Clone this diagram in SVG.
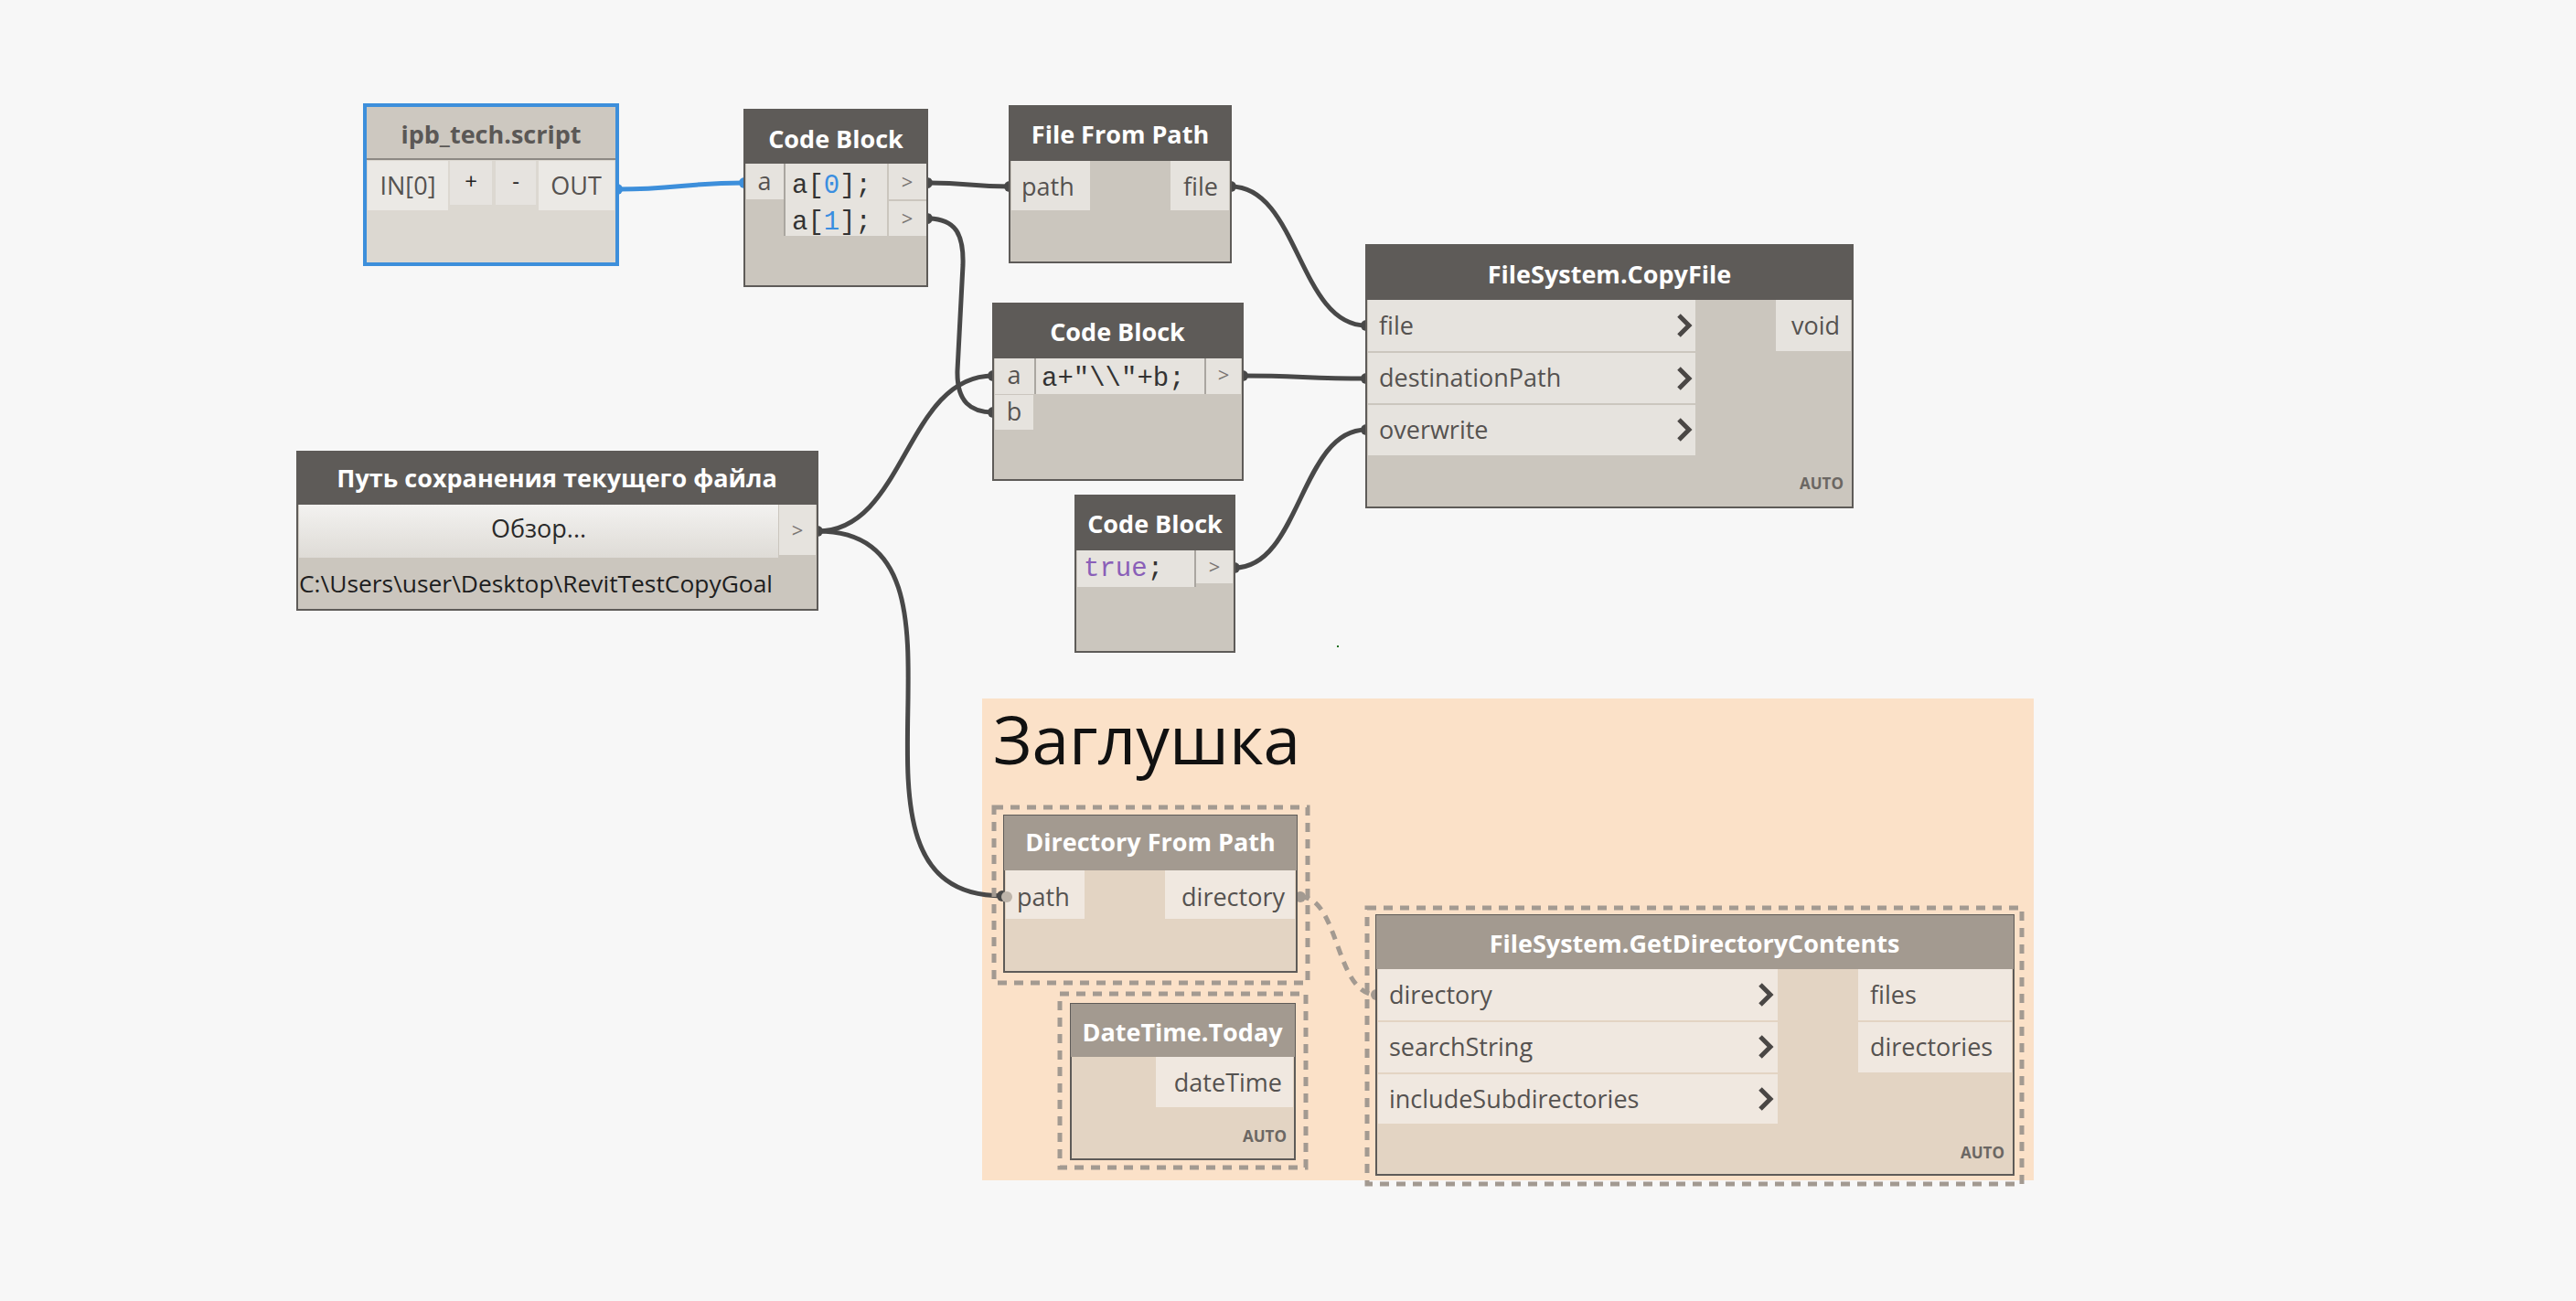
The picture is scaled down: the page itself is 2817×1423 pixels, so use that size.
<svg xmlns="http://www.w3.org/2000/svg" width="2817" height="1423" viewBox="0 0 2817 1423">
<style>
.hdr{fill:#5e5b58}
.body{fill:#cbc6be;stroke:#5e5b58;stroke-width:2}
.cell{fill:#e6e3de}
.title{font-family:"Open Sans","Noto Sans",sans-serif;font-weight:bold;font-size:27px;fill:#ffffff;text-anchor:middle}
.lbl{font-family:"Open Sans","Noto Sans",sans-serif;font-size:27px;fill:#555250}
.code{font-family:"Liberation Mono",monospace;font-size:29px;fill:#333333}
.num{fill:#3a8ee0}
.kw{fill:#8a5fb8}
.arr{font-family:"Open Sans",sans-serif;font-size:22px;fill:#7a7672;text-anchor:middle}
.wire{fill:none;stroke:#484848;stroke-width:5}
.cap{fill:#484848}
.chev{fill:none;stroke:#4a4745;stroke-width:5}
.auto{font-family:"Open Sans",sans-serif;font-weight:bold;font-size:17px;fill:#6b6763;text-anchor:end}
.fzhdr{fill:#a39a90}
.fzbody{fill:#e3d4c3;stroke:#5e5b58;stroke-width:2}
.fzcell{fill:#f0e8e0}
.sel{fill:none;stroke:#a39a91;stroke-width:5;stroke-dasharray:10 8}
</style>
<rect x="0" y="0" width="2817" height="1423" fill="#f7f7f7"/>
<rect x="1462" y="706" width="2" height="2" fill="#1a6e1a"/>

<g id="group-zaglushka">
<rect x="1074" y="764" width="1150" height="527" fill="#fbe1c8"/>
<text x="1086" y="836" font-family="Open Sans, Noto Sans, sans-serif" font-size="73" fill="#111111">Заглушка</text>
</g>

<g id="connectors">
<path class="wire" d="M675,207 C740,207 750,200 814,200" style="stroke:#3d8fdb"/>
<circle cx="675" cy="207" r="6" fill="#3d8fdb"/>
<circle cx="814" cy="200" r="6" fill="#3d8fdb"/>
<path class="wire" d="M1014,200 C1060,200 1060,204 1104,204"/>
<path class="wire" d="M1014,239 C1045,239 1054,256 1053,290 L1047,405 C1046,440 1062,451 1086,451"/>
<path class="wire" d="M894,581 C990,581 990,411 1086,411"/>
<path class="wire" d="M894,581 C1100,581 884,980 1096,980"/>
<path class="wire" d="M1346,204 C1420,204 1420,356 1494,356"/>
<path class="wire" d="M1359,411 C1420,411 1430,414 1494,414"/>
<path class="wire" d="M1350,621 C1422,621 1422,470 1494,470"/>
<path d="M1422,981 C1465,981 1460,1088 1505,1088" fill="none" stroke="#a39a91" stroke-width="5" stroke-dasharray="10 8"/>
<g class="cap">
<circle cx="1014" cy="200" r="6"/><circle cx="1104" cy="204" r="6"/>
<circle cx="1014" cy="239" r="6"/><circle cx="1086" cy="451" r="6"/>
<circle cx="894" cy="581" r="6"/><circle cx="1086" cy="411" r="6"/>
<circle cx="1096" cy="980" r="6"/>
<circle cx="1346" cy="204" r="6"/><circle cx="1494" cy="356" r="6"/>
<circle cx="1359" cy="411" r="6"/><circle cx="1494" cy="414" r="6"/>
<circle cx="1350" cy="621" r="6"/><circle cx="1494" cy="470" r="6"/>
</g>
<circle cx="1422" cy="981" r="6" fill="#a39a91"/>
<circle cx="1505" cy="1088" r="6" fill="#a39a91"/>
</g>

<g id="node-ipb-tech-script">
<rect x="399" y="115" width="276" height="174" fill="#dcd8d1" stroke="#3d8fdb" stroke-width="4"/>
<rect x="401" y="117" width="272" height="56" fill="#cdc8c0"/>
<rect x="401" y="173" width="272" height="2" fill="#8d8984"/>
<rect x="402" y="176" width="88" height="54" fill="#ebe9e5"/>
<rect x="492" y="176" width="46" height="48" fill="#e6e3df"/>
<rect x="542" y="176" width="44" height="48" fill="#e6e3df"/>
<rect x="589" y="176" width="83" height="54" fill="#ebe9e5"/>
<text x="537" y="157" class="title" style="fill:#5b5856">ipb_tech.script</text>
<text x="446" y="213" class="lbl" text-anchor="middle">IN[0]</text>
<text x="515" y="207" class="lbl" text-anchor="middle" style="fill:#222;font-size:24px">+</text>
<text x="564" y="207" class="lbl" text-anchor="middle" style="fill:#222;font-size:24px">-</text>
<text x="630" y="213" class="lbl" text-anchor="middle">OUT</text>
</g>

<g id="node-code-block-1">
<rect x="814" y="120" width="200" height="193" class="body"/>
<rect x="814" y="120" width="200" height="59" class="hdr"/>
<rect x="816" y="179" width="41" height="39" class="cell"/>
<rect x="859" y="179" width="111" height="79" class="cell"/>
<rect x="857" y="179" width="2" height="79" fill="#aaa6a0"/>
<rect x="972" y="179" width="41" height="39" class="cell"/>
<rect x="972" y="220" width="41" height="38" class="cell"/>
<text x="914" y="162" class="title">Code Block</text>
<text x="836" y="208" class="lbl" text-anchor="middle">a</text>
<text x="866" y="211" class="code">a[<tspan class="num">0</tspan>];</text>
<text x="866" y="251" class="code">a[<tspan class="num">1</tspan>];</text>
<text x="992" y="207" class="arr">&gt;</text>
<text x="992" y="247" class="arr">&gt;</text>
</g>

<g id="node-file-from-path">
<rect x="1104" y="116" width="242" height="171" class="body"/>
<rect x="1104" y="116" width="242" height="60" class="hdr"/>
<rect x="1106" y="176" width="86" height="54" class="cell"/>
<rect x="1280" y="176" width="64" height="54" class="cell"/>
<text x="1225" y="157" class="title">File From Path</text>
<text x="1117" y="214" class="lbl">path</text>
<text x="1332" y="214" class="lbl" text-anchor="end">file</text>
</g>

<g id="node-copyfile">
<rect x="1494" y="268" width="532" height="287" class="body"/>
<rect x="1494" y="268" width="532" height="60" class="hdr"/>
<rect x="1496" y="328" width="358" height="56" class="cell"/>
<rect x="1496" y="386" width="358" height="55" class="cell"/>
<rect x="1496" y="443" width="358" height="55" class="cell"/>
<rect x="1942" y="328" width="82" height="56" class="cell"/>
<text x="1760" y="310" class="title">FileSystem.CopyFile</text>
<text x="1508" y="366" class="lbl">file</text>
<text x="1508" y="423" class="lbl">destinationPath</text>
<text x="1508" y="480" class="lbl">overwrite</text>
<polyline class="chev" points="1836,345 1847,356 1836,367"/>
<polyline class="chev" points="1836,403 1847,414 1836,425"/>
<polyline class="chev" points="1836,459 1847,470 1836,481"/>
<text x="2012" y="366" class="lbl" text-anchor="end">void</text>
<text x="2016" y="535" class="auto">AUTO</text>
</g>

<g id="node-code-block-2">
<rect x="1086" y="332" width="273" height="193" class="body"/>
<rect x="1086" y="332" width="273" height="60" class="hdr"/>
<rect x="1088" y="392" width="43" height="39" class="cell"/>
<rect x="1133" y="392" width="184" height="39" class="cell"/>
<rect x="1131" y="392" width="2" height="39" fill="#aaa6a0"/>
<rect x="1317" y="392" width="2" height="39" fill="#aaa6a0"/>
<rect x="1319" y="392" width="38" height="39" class="cell"/>
<rect x="1088" y="432" width="42" height="38" class="cell"/>
<text x="1222" y="373" class="title">Code Block</text>
<text x="1109" y="420" class="lbl" text-anchor="middle">a</text>
<text x="1139" y="422" class="code">a+"\\"+b;</text>
<text x="1338" y="418" class="arr">&gt;</text>
<text x="1109" y="460" class="lbl" text-anchor="middle">b</text>
</g>

<g id="node-path-input">
<defs>
<linearGradient id="btn" x1="0" y1="0" x2="0" y2="1">
<stop offset="0" stop-color="#f3f2f0"/>
<stop offset="1" stop-color="#dedbd6"/>
</linearGradient>
</defs>
<rect x="325" y="494" width="569" height="173" class="body"/>
<rect x="325" y="494" width="569" height="58" class="hdr"/>
<rect x="327" y="552" width="524" height="58" fill="url(#btn)"/>
<rect x="852" y="552" width="40" height="55" class="cell"/>
<text x="609" y="533" class="title">Путь сохранения текущего файла</text>
<text x="589" y="588" class="lbl" text-anchor="middle" style="fill:#2a2a2a">Обзор...</text>
<text x="872" y="588" class="arr">&gt;</text>
<text x="327" y="648" class="lbl" style="fill:#1e1e1e;font-size:25px" textLength="518" lengthAdjust="spacingAndGlyphs">C:\Users\user\Desktop\RevitTestCopyGoal</text>
</g>

<g id="node-code-block-3">
<rect x="1176" y="542" width="174" height="171" class="body"/>
<rect x="1176" y="542" width="174" height="60" class="hdr"/>
<rect x="1178" y="602" width="128" height="40" class="cell"/>
<rect x="1306" y="602" width="2" height="40" fill="#aaa6a0"/>
<rect x="1308" y="602" width="40" height="36" class="cell"/>
<text x="1263" y="583" class="title">Code Block</text>
<text x="1185" y="630" class="code"><tspan class="kw">true</tspan>;</text>
<text x="1328" y="628" class="arr">&gt;</text>
</g>

<g id="node-directory-from-path">
<rect x="1087" y="883" width="343" height="192" class="sel"/>
<rect x="1098" y="892" width="320" height="171" class="fzbody"/>
<rect x="1098" y="892" width="320" height="60" class="fzhdr"/>
<rect x="1100" y="952" width="86" height="53" class="fzcell"/>
<rect x="1274" y="952" width="142" height="53" class="fzcell"/>
<text x="1258" y="931" class="title">Directory From Path</text>
<text x="1112" y="991" class="lbl">path</text>
<text x="1405" y="991" class="lbl" text-anchor="end">directory</text>
<circle cx="1101" cy="981" r="6" fill="#bdb4aa"/>
</g>

<g id="node-datetime-today">
<rect x="1159" y="1087" width="269" height="190" class="sel"/>
<rect x="1171" y="1098" width="245" height="170" class="fzbody"/>
<rect x="1171" y="1098" width="245" height="58" class="fzhdr"/>
<rect x="1264" y="1156" width="150" height="55" class="fzcell"/>
<text x="1293" y="1139" class="title">DateTime.Today</text>
<text x="1402" y="1194" class="lbl" text-anchor="end">dateTime</text>
<text x="1407" y="1249" class="auto">AUTO</text>
</g>

<g id="node-get-directory-contents">
<rect x="1495" y="993" width="716" height="302" class="sel"/>
<rect x="1505" y="1001" width="697" height="284" class="fzbody"/>
<rect x="1505" y="1001" width="697" height="59" class="fzhdr"/>
<rect x="1507" y="1060" width="437" height="56" class="fzcell"/>
<rect x="1507" y="1118" width="437" height="55" class="fzcell"/>
<rect x="1507" y="1175" width="437" height="54" class="fzcell"/>
<rect x="2032" y="1060" width="168" height="56" class="fzcell"/>
<rect x="2032" y="1118" width="168" height="55" class="fzcell"/>
<text x="1853" y="1042" class="title">FileSystem.GetDirectoryContents</text>
<text x="1519" y="1098" class="lbl">directory</text>
<text x="1519" y="1155" class="lbl">searchString</text>
<text x="1519" y="1212" class="lbl">includeSubdirectories</text>
<polyline class="chev" points="1925,1077 1936,1088 1925,1099"/>
<polyline class="chev" points="1925,1134 1936,1145 1925,1156"/>
<polyline class="chev" points="1925,1191 1936,1202 1925,1213"/>
<text x="2045" y="1098" class="lbl">files</text>
<text x="2045" y="1155" class="lbl">directories</text>
<text x="2192" y="1267" class="auto">AUTO</text>
</g>
</svg>
